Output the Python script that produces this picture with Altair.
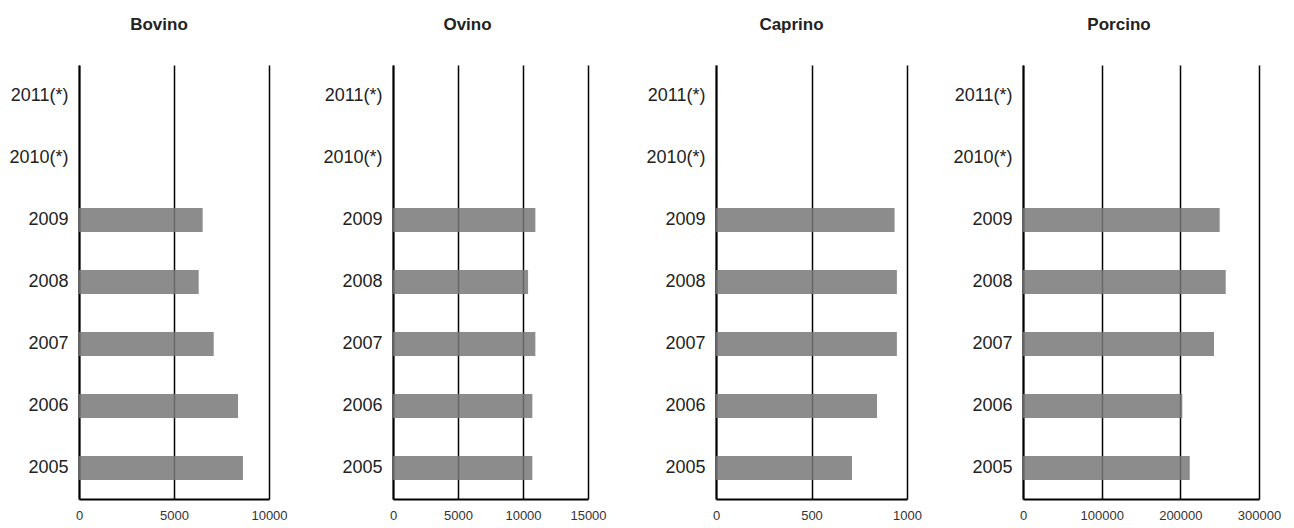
import altair as alt
import pandas as pd

years = ["2005", "2006", "2007", "2008", "2009", "2010(*)", "2011(*)"]
order = years[::-1]

bovino = [8630, 8370, 7090, 6300, 6510, None, None]
ovino = [10720, 10720, 10950, 10390, 10950, None, None]
caprino = [712, 843, 947, 947, 935, None, None]
porcino = [212000, 202500, 242800, 257700, 250000, None, None]

panels = [
    ("Bovino", bovino, [0, 5000, 10000], 190, 70, -15),
    ("Ovino", ovino, [0, 5000, 10000, 15000], 195, 75, -23),
    ("Caprino", caprino, [0, 500, 1000], 191, 79, -20),
    ("Porcino", porcino, [0, 100000, 200000, 300000], 236, 71, -22),
]

FONT = "Liberation Sans"
charts = []
for name, vals, ticks, w, ext, dx in panels:
    df = pd.DataFrame({"year": years, "value": vals})
    c = alt.Chart(df).mark_bar(color="#787878", opacity=0.85).encode(
        x=alt.X("value:Q",
                scale=alt.Scale(domain=[ticks[0], ticks[-1]], nice=False, zero=True),
                axis=alt.Axis(values=ticks, grid=True, gridColor="black", gridWidth=1.5,
                              domain=True, domainColor="black", domainWidth=2,
                              ticks=False, labelFontSize=13, labelPadding=10,
                              labelColor="#333333", labelFont=FONT, title=None,
                              format="d", labelFlush=False, labelOverlap=False)),
        y=alt.Y("year:N",
                scale=alt.Scale(domain=order, paddingInner=0.61, paddingOuter=0.305),
                axis=alt.Axis(title=None, ticks=False, domain=True, domainColor="black",
                              domainWidth=2, grid=False, labelFontSize=18, labelPadding=11,
                              labelColor="#222222", labelFont=FONT,
                              minExtent=ext, maxExtent=ext)),
    ).properties(
        width=w, height=434,
        title=alt.TitleParams(text=name, fontSize=17, fontWeight="bold", font=FONT,
                              color="#222222", anchor="middle", frame="group",
                              dx=dx, offset=18, baseline="alphabetic"),
    )
    charts.append(c)

chart = alt.hconcat(*charts, spacing=30).properties(
    padding={"left": 0, "top": 8, "right": 0, "bottom": 0}
).configure_view(stroke=None)

chart.save("out.html", embed_options={"renderer": "svg", "actions": False})
